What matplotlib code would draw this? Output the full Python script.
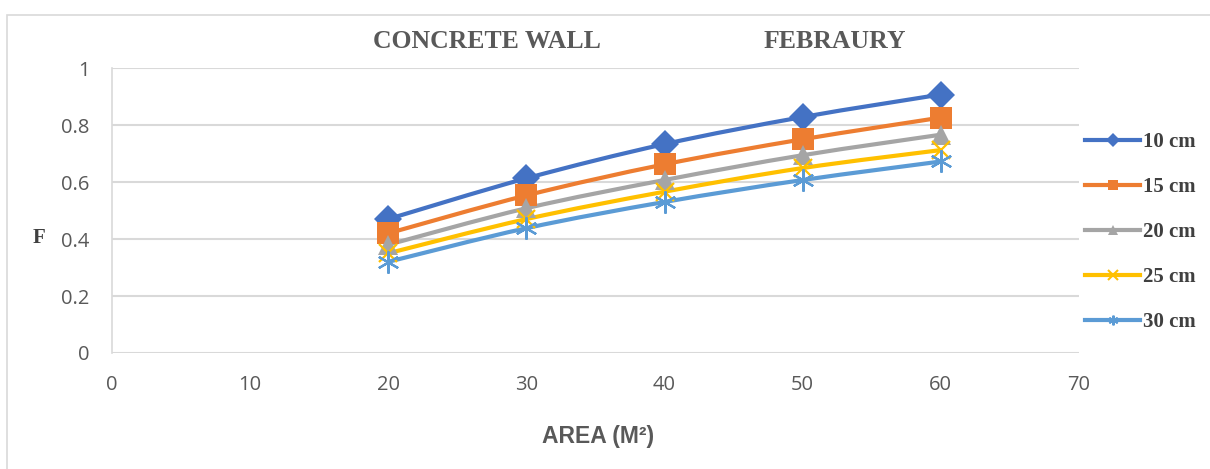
import matplotlib
matplotlib.use("Agg")
import matplotlib.pyplot as plt
import numpy as np
from matplotlib.path import Path
from matplotlib.patches import PathPatch, Rectangle
from matplotlib.lines import Line2D

# --- data ---
area = [20, 30, 40, 50, 60]
f_10cm = [0.47, 0.613, 0.733, 0.828, 0.907]
f_15cm = [0.42, 0.553, 0.662, 0.750, 0.826]
f_20cm = [0.38, 0.508, 0.607, 0.694, 0.766]
f_25cm = [0.35, 0.470, 0.566, 0.649, 0.712]
f_30cm = [0.32, 0.438, 0.530, 0.607, 0.672]

labels = ["10 cm", "15 cm", "20 cm", "25 cm", "30 cm"]
series = [f_10cm, f_15cm, f_20cm, f_25cm, f_30cm]
colors = ["#4472C4", "#ED7D31", "#A5A5A5", "#FFC000", "#5B9BD5"]
markers = ["D", "s", "^", "x", (6, 2, 0)]
msizes = [14, 16, 14, 13, 16]
x_ticks = [0, 10, 20, 30, 40, 50, 60, 70]
y_ticks = [0, 0.2, 0.4, 0.6, 0.8, 1.0]

GRID = "#D9D9D9"
TEXT = "#595959"


def smooth_path(xs, ys):
    """Excel-style smoothed line: Catmull-Rom segments as cubic beziers."""
    pts = np.column_stack([xs, ys]).astype(float)
    verts = [pts[0]]
    codes = [Path.MOVETO]
    n = len(pts)
    for i in range(n - 1):
        p0 = pts[i - 1] if i > 0 else pts[i]
        p1, p2 = pts[i], pts[i + 1]
        p3 = pts[i + 2] if i + 2 < n else pts[i + 1]
        verts += [p1 + (p2 - p0) / 6.0, p2 - (p3 - p1) / 6.0, p2]
        codes += [Path.CURVE4] * 3
    return Path(verts, codes)


def is_stroke(m):
    return m == "x" or isinstance(m, tuple)


fig = plt.figure(figsize=(12.1, 4.69), dpi=100)
ax = fig.add_axes([112 / 1210, 1 - 353 / 469, (1079 - 112) / 1210, (353 - 68) / 469])

# outer chart border (cropped on the right and bottom)
fig.patches.append(Rectangle((7 / 1210, -0.05), 1.1, 1 - 15 / 469 + 0.05,
                             transform=fig.transFigure, fill=False,
                             edgecolor="#D9D9D9", linewidth=1.2))

for ys, lab, col, mk, ms in zip(series, labels, colors, markers, msizes):
    ax.add_patch(PathPatch(smooth_path(area, ys), fill=False, edgecolor=col,
                           linewidth=3.0, capstyle="round", zorder=3))
    ax.plot(area, ys, linestyle="none", marker=mk, markersize=ms,
            color=col, markeredgecolor=col,
            markeredgewidth=1.6 if is_stroke(mk) else 0, zorder=4)

ax.set_xlim(0, 70)
ax.set_ylim(0, 1)
ax.set_xticks(x_ticks)
ax.set_yticks(y_ticks)
ax.set_xticklabels([str(v) for v in x_ticks])
ax.set_yticklabels(["0", "0.2", "0.4", "0.6", "0.8", "1"])
ax.tick_params(length=0, labelsize=14.5, labelcolor=TEXT)
ax.tick_params(axis="y", pad=16)
ax.tick_params(axis="x", pad=16)
for lbl in ax.get_xticklabels() + ax.get_yticklabels():
    lbl.set_family("Open Sans")
ax.grid(True, axis="y", color=GRID, linewidth=1.5, zorder=0)
for name, spine in ax.spines.items():
    if name == "left":
        spine.set_color(GRID)
        spine.set_linewidth(1.2)
    else:
        spine.set_visible(False)

# titles
fig.text(487 / 1210, 1 - 41 / 469, "CONCRETE WALL", family="Liberation Serif",
         fontweight="bold", fontsize=18.5, color=TEXT, ha="center", va="center")
fig.text(835 / 1210, 1 - 41 / 469, "FEBRAURY", family="Liberation Serif",
         fontweight="bold", fontsize=18.5, color=TEXT, ha="center", va="center")

# axis labels
fig.text(598 / 1210, 1 - 437 / 469, "AREA (M²)", family="Liberation Sans",
         fontweight="bold", fontsize=16.5, color=TEXT, ha="center", va="center")
fig.text(39 / 1210, 1 - 238 / 469, "F", family="Liberation Serif",
         fontweight="bold", fontsize=15, color="#404040", ha="center", va="center")

# legend
handles = [Line2D([0], [0], color=c, linewidth=3.0, marker=m, markersize=7,
                  markeredgewidth=1.5 if is_stroke(m) else 0, markeredgecolor=c)
           for c, m in zip(colors, markers)]
leg = fig.legend(handles, labels, loc="center left",
                 bbox_to_anchor=(1085 / 1210, 1 - 232 / 469),
                 frameon=False, borderpad=0, borderaxespad=0,
                 handlelength=2.64, handletextpad=0.15,
                 labelspacing=1.2, prop={"family": "Liberation Serif",
                                         "weight": "bold", "size": 15})
for t in leg.get_texts():
    t.set_color("#404040")

fig.savefig("out.png", dpi=100)
